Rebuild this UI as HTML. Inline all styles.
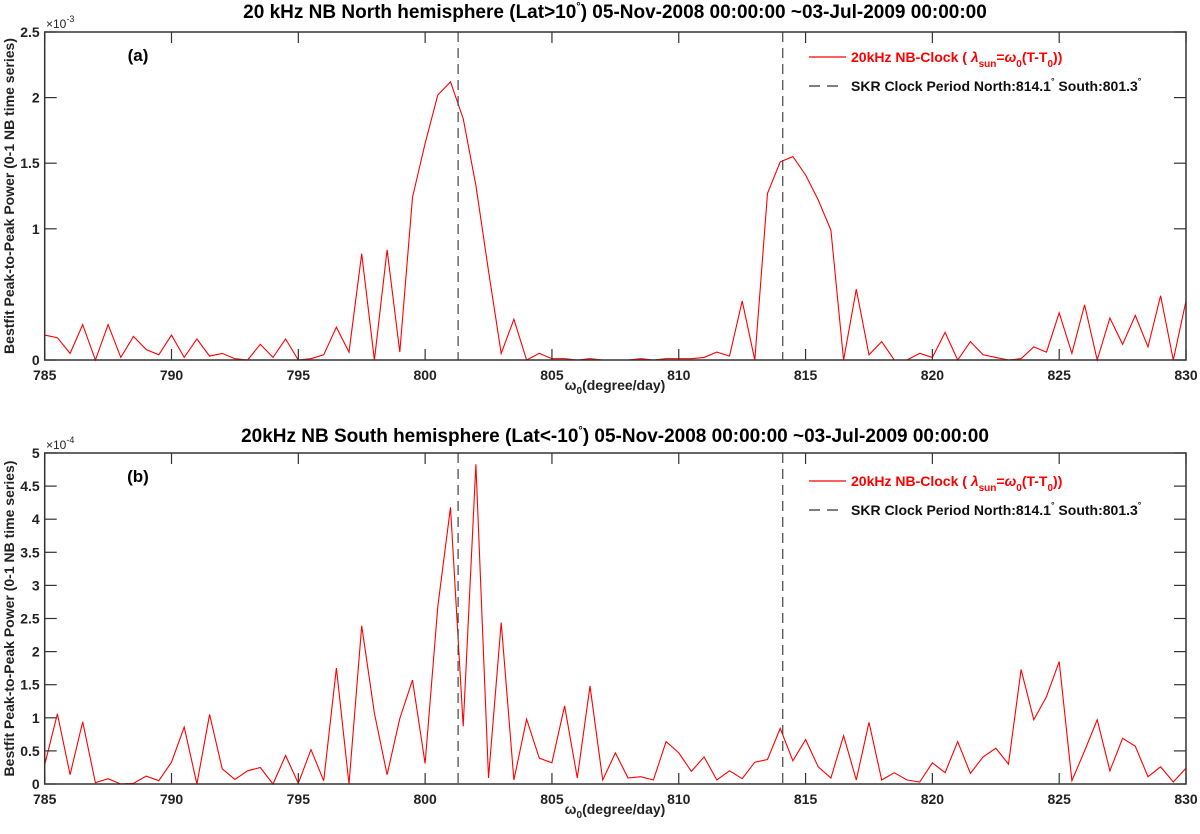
<!DOCTYPE html>
<html><head><meta charset="utf-8"><style>
body{margin:0;background:#fff}
svg{display:block;font-family:"Liberation Sans",Arial,sans-serif}
</style></head><body>
<svg id="fig" width="1200" height="834" viewBox="0 0 1200 834"></svg>
<script>
const xs = [];
for (let i = 0; i <= 90; i++) xs.push(785 + i * 0.5);
const northValues = [0.19,0.17,0.05,0.27,0,0.27,0.02,0.18,0.08,0.04,0.19,0.02,0.16,0.03,0.05,0.01,0,0.12,0.02,0.16,0,0.01,0.04,0.25,0.06,0.81,0,0.84,0.06,1.24,1.65,2.02,2.12,1.84,1.33,0.68,0.05,0.31,0,0.05,0.01,0.01,0,0.01,0,0,0,0.01,0,0.01,0.01,0.01,0.02,0.06,0.03,0.45,0,1.27,1.51,1.55,1.41,1.22,0.99,0,0.54,0.04,0.14,0,0,0.05,0.02,0.21,0,0.14,0.04,0.02,0,0.01,0.1,0.06,0.36,0.05,0.42,0,0.32,0.12,0.34,0.1,0.49,0,0.45];
const southValues = [0.29,1.06,0.14,0.94,0.02,0.08,0,0.01,0.12,0.05,0.33,0.86,0,1.05,0.23,0.07,0.2,0.25,0,0.43,0.01,0.52,0.05,1.75,0,2.39,1.07,0.14,0.99,1.57,0.31,2.68,4.18,0.87,4.83,0.09,2.44,0.06,0.98,0.39,0.32,1.18,0.09,1.48,0.06,0.47,0.09,0.11,0.06,0.64,0.47,0.19,0.41,0.06,0.2,0.08,0.33,0.37,0.84,0.35,0.67,0.26,0.09,0.73,0.06,0.93,0.06,0.17,0.06,0.03,0.32,0.17,0.64,0.16,0.41,0.54,0.3,1.73,0.97,1.32,1.85,0.05,0.5,0.97,0.2,0.69,0.57,0.11,0.26,0.03,0.24];
const xTicks = [785,790,795,800,805,810,815,820,825,830];
const northYTicks = [0,1,1.5,2,2.5];
const southYTicks = [0,0.5,1,1.5,2,2.5,3,3.5,4,4.5,5];
const skrPeriods = [801.3, 814.1];

const NS = "http://www.w3.org/2000/svg";
const svg = document.getElementById("fig");
function mk(tag, attrs, parent){const e=document.createElementNS(NS,tag);for(const k in attrs)e.setAttribute(k,attrs[k]);(parent||svg).appendChild(e);return e;}

function panel(opts){
  const L=44.7,R=1186,T=opts.top,B=opts.bottom;
  const g=mk("g",{});
  
  
  const sx=v=>L+(v-785)/45*(R-L);
  const sy=v=>B-(v/opts.ymax)*(B-T);
  // title
  const t=mk("text",{x:615,y:opts.titleY,"text-anchor":"middle","font-size":"19","font-weight":"bold",fill:"#000"},g);
  t.innerHTML=opts.title;
  
  
  // series
  let d="";
  opts.values.forEach((v,i)=>{d+=(i?"L":"M")+sx(xs[i]).toFixed(1)+" "+sy(v).toFixed(1);});
  const p=mk("path",{d:d,fill:"none",stroke:"#ff0000","stroke-width":"1.1"},g);
  
  
  // dashed lines
  skrPeriods.forEach(v=>{
    const l=mk("line",{x1:sx(v),x2:sx(v),y1:T,y2:B,stroke:"#444","stroke-width":"1.2","stroke-dasharray":"10 6"},g);
    
    
  });
  // axes box
  const box=mk("rect",{x:L,y:T,width:R-L,height:B-T,fill:"none",stroke:"#333","stroke-width":"1.5"},g);
  
  
  xTicks.forEach(v=>{
    const x=sx(v);
    mk("line",{x1:x,x2:x,y1:B,y2:B-11,stroke:"#333","stroke-width":"1.2"},g);
    mk("line",{x1:x,x2:x,y1:T,y2:T+11,stroke:"#333","stroke-width":"1.2"},g);
    const tx=mk("text",{x:x,y:B+20,"text-anchor":"middle","font-size":"14","font-weight":"bold",fill:"#222"},g);
    tx.textContent=v;
    
    
  });
  opts.yTicks.forEach(v=>{
    const y=sy(v);
    mk("line",{x1:L,x2:L+12,y1:y,y2:y,stroke:"#333","stroke-width":"1.2"},g);
    mk("line",{x1:R,x2:R-12,y1:y,y2:y,stroke:"#333","stroke-width":"1.2"},g);
    const ty=mk("text",{x:L-5,y:y+5,"text-anchor":"end","font-size":"14","font-weight":"bold",fill:"#222"},g);
    ty.textContent=v;
    
    
  });
  const ex=mk("text",{x:46,y:T-4,"font-size":"12",fill:"#222"},g);
  ex.innerHTML='×10<tspan dy="-6" font-size="9">'+opts.exp+'</tspan>';
  
  
  const xl=mk("text",{x:615,y:B+30,"text-anchor":"middle","font-size":"14","font-weight":"bold",fill:"#222"},g);
  xl.innerHTML='ω<tspan dy="4" font-size="10">0</tspan><tspan dy="-4">(degree/day)</tspan>';
  
  
  const yl=mk("text",{x:0,y:0,"text-anchor":"middle","font-size":"14","font-weight":"bold",fill:"#222",transform:"translate(14,"+((T+B)/2)+") rotate(-90)"},g);
  yl.textContent="Bestfit Peak-to-Peak Power (0-1 NB time series)";
  
  
  const pl=mk("text",{x:138,y:T+29,"text-anchor":"middle","font-size":"17","font-weight":"bold",fill:"#000"},g);
  pl.textContent=opts.label;
  
  
  // legend
  const ly=opts.legendY;
  const lg=mk("g",{},g);
  
  
  mk("line",{x1:809,x2:846,y1:ly,y2:ly,stroke:"#ff0000","stroke-width":"1.2"},lg);
  const l1=mk("text",{x:851,y:ly+5,"font-size":"14","font-weight":"bold",fill:"#ff0000"},lg);
  l1.innerHTML='20kHz NB-Clock ( <tspan font-style="italic">λ</tspan><tspan dy="5" font-size="10">sun</tspan><tspan dy="-5">=</tspan><tspan font-style="italic">ω</tspan><tspan dy="5" font-size="10">0</tspan><tspan dy="-5">(T-T</tspan><tspan dy="5" font-size="10">0</tspan><tspan dy="-5">))</tspan>';
  
  
  mk("line",{x1:809,x2:842,y1:ly+29,y2:ly+29,stroke:"#333","stroke-width":"1.2","stroke-dasharray":"11 7"},lg);
  const l2=mk("text",{x:851,y:ly+34,"font-size":"14","font-weight":"bold",fill:"#111"},lg);
  l2.innerHTML='SKR Clock Period North:814.1<tspan dy="-7" font-size="9">°</tspan><tspan dy="7"> South:801.3</tspan><tspan dy="-7" font-size="9">°</tspan>';
  
  
}
panel({name:"north-panel",top:32,bottom:360,ymax:2.5,values:northValues,yTicks:northYTicks,exp:"-3",titleY:18,label:"(a)",legendY:57,
  title:'20 kHz NB North hemisphere (Lat&gt;10<tspan dy="-8" font-size="11">°</tspan><tspan dy="8">) 05-Nov-2008 00:00:00 ~03-Jul-2009 00:00:00</tspan>'});
panel({name:"south-panel",top:453,bottom:784,ymax:5,values:southValues,yTicks:southYTicks,exp:"-4",titleY:442,label:"(b)",legendY:481,
  title:'20kHz NB South hemisphere (Lat&lt;-10<tspan dy="-8" font-size="11">°</tspan><tspan dy="8">) 05-Nov-2008 00:00:00 ~03-Jul-2009 00:00:00</tspan>'});
</script>
</body></html>
